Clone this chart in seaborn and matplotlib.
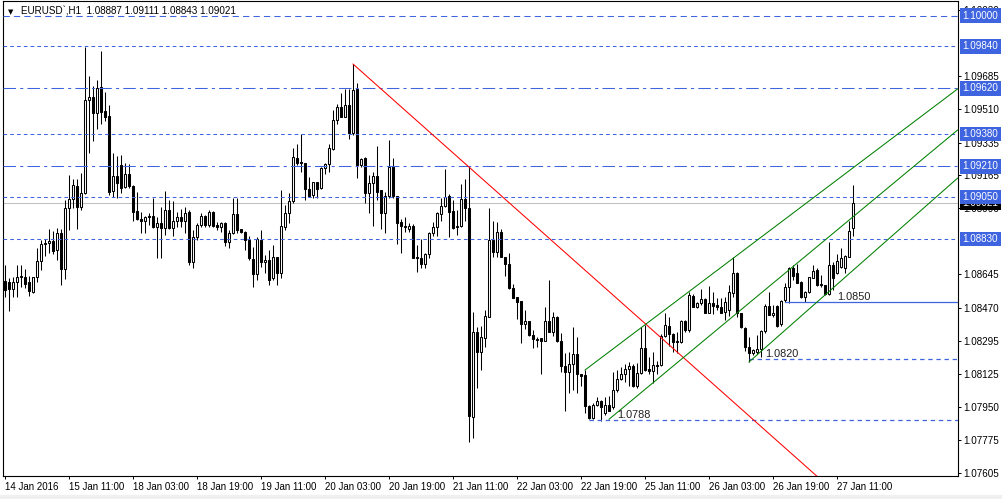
import numpy as np
import pandas as pd
import matplotlib
matplotlib.use("Agg")
import matplotlib.pyplot as plt
import matplotlib.transforms as mtransforms
import seaborn as sns

# EURUSD H1 bars, 14 Jan 2016 19:00 .. 27 Jan 2016 15:00
opens = [
    1.08610, 1.08604, 1.08568, 1.08604, 1.08631, 1.08631, 1.08604, 1.08552, 1.08631, 1.08714,
    1.08803, 1.08809, 1.08819, 1.08772, 1.08861, 1.08672, 1.08992, 1.09039, 1.09107, 1.08997,
    1.09071, 1.09558, 1.09574, 1.09490, 1.09626, 1.09500, 1.09474, 1.09081, 1.09160, 1.09217,
    1.09102, 1.09170, 1.09107, 1.08976, 1.08934, 1.08924, 1.08950, 1.08950, 1.08893, 1.08913,
    1.08887, 1.08982, 1.08887, 1.08924, 1.08945, 1.08924, 1.08971, 1.08709, 1.08840, 1.08903,
    1.08950, 1.08903, 1.08971, 1.08903, 1.08893, 1.08913, 1.08814, 1.08861, 1.08961, 1.08882,
    1.08866, 1.08824, 1.08725, 1.08646, 1.08824, 1.08709, 1.08720, 1.08625, 1.08735, 1.08651,
    1.08893, 1.08966, 1.09029, 1.09254, 1.09233, 1.09228, 1.09092, 1.09060, 1.09128, 1.09097,
    1.09202, 1.09223, 1.09301, 1.09453, 1.09521, 1.09469, 1.09532, 1.09385, 1.09616, 1.09217,
    1.09254, 1.09071, 1.09123, 1.09160, 1.09086, 1.08966, 1.09055, 1.09207, 1.09055, 1.08919,
    1.08898, 1.08882, 1.08898, 1.08735, 1.08730, 1.08699, 1.08751, 1.08861, 1.08893, 1.08961,
    1.09003, 1.09055, 1.08976, 1.08893, 1.08898, 1.09039, 1.08992, 1.07897, 1.08342, 1.08238,
    1.08311, 1.08421, 1.08824, 1.08762, 1.08866, 1.08735, 1.08699, 1.08573, 1.08526, 1.08505,
    1.08384, 1.08400, 1.08327, 1.08306, 1.08311, 1.08295, 1.08400, 1.08342, 1.08421, 1.08295,
    1.08164, 1.08133, 1.08175, 1.08227, 1.08122, 1.08117, 1.07955, 1.07892, 1.07960, 1.07981,
    1.07918, 1.07960, 1.07949, 1.08038, 1.08096, 1.08122, 1.08148, 1.08164, 1.08059, 1.08127,
    1.08258, 1.08148, 1.08138, 1.08169, 1.08169, 1.08321, 1.08374, 1.08332, 1.08295, 1.08290,
    1.08400, 1.08353, 1.08531, 1.08473, 1.08494, 1.08515, 1.08442, 1.08494, 1.08484, 1.08473,
    1.08447, 1.08458, 1.08547, 1.08651, 1.08442, 1.08363, 1.08264, 1.08232, 1.08238, 1.08253,
    1.08348, 1.08479, 1.08431, 1.08479, 1.08384, 1.08510, 1.08578, 1.08678, 1.08651, 1.08604,
    1.08526, 1.08552, 1.08625, 1.08667, 1.08594, 1.08589, 1.08541, 1.08693, 1.08651, 1.08683,
    1.08678, 1.08735, 1.08887,
]
highs = [
    1.08693, 1.08625, 1.08631, 1.08693, 1.08693, 1.08672, 1.08636, 1.08631, 1.08782, 1.08824,
    1.08830, 1.08882, 1.08872, 1.08887, 1.08882, 1.09034, 1.09165, 1.09144, 1.09144, 1.09175,
    1.09836, 1.09684, 1.09631, 1.09663, 1.09815, 1.09600, 1.09532, 1.09280, 1.09265, 1.09270,
    1.09228, 1.09223, 1.09113, 1.09076, 1.08971, 1.08950, 1.08966, 1.09044, 1.08945, 1.08997,
    1.09081, 1.09034, 1.09029, 1.08971, 1.08987, 1.08997, 1.08982, 1.08877, 1.08913, 1.08966,
    1.08955, 1.08982, 1.08976, 1.08919, 1.08919, 1.08919, 1.08877, 1.09044, 1.09044, 1.08882,
    1.08872, 1.08845, 1.08788, 1.08840, 1.08877, 1.08746, 1.08772, 1.08798, 1.08735, 1.09086,
    1.09008, 1.09071, 1.09306, 1.09327, 1.09380, 1.09228, 1.09155, 1.09128, 1.09128, 1.09207,
    1.09228, 1.09327, 1.09506, 1.09537, 1.09595, 1.09616, 1.09616, 1.09747, 1.09647, 1.09254,
    1.09259, 1.09165, 1.09181, 1.09317, 1.09086, 1.09076, 1.09348, 1.09254, 1.09055, 1.08934,
    1.08945, 1.08913, 1.08908, 1.08798, 1.08830, 1.08756, 1.08866, 1.08919, 1.08971, 1.09044,
    1.09196, 1.09065, 1.09034, 1.08982, 1.09118, 1.09144, 1.09207, 1.08447, 1.08369, 1.08374,
    1.08458, 1.08992, 1.08924, 1.08919, 1.08882, 1.08735, 1.08756, 1.08594, 1.08526, 1.08505,
    1.08458, 1.08400, 1.08353, 1.08316, 1.08311, 1.08473, 1.08615, 1.08447, 1.08426, 1.08337,
    1.08232, 1.08238, 1.08369, 1.08316, 1.08122, 1.08143, 1.07960, 1.07970, 1.08002, 1.07986,
    1.08002, 1.08007, 1.08133, 1.08143, 1.08159, 1.08175, 1.08185, 1.08175, 1.08180, 1.08369,
    1.08379, 1.08211, 1.08238, 1.08190, 1.08332, 1.08442, 1.08421, 1.08337, 1.08342, 1.08405,
    1.08405, 1.08552, 1.08541, 1.08500, 1.08568, 1.08520, 1.08583, 1.08552, 1.08520, 1.08520,
    1.08526, 1.08589, 1.08735, 1.08657, 1.08442, 1.08369, 1.08316, 1.08253, 1.08327, 1.08353,
    1.08489, 1.08552, 1.08484, 1.08484, 1.08510, 1.08599, 1.08683, 1.08693, 1.08699, 1.08610,
    1.08557, 1.08631, 1.08693, 1.08678, 1.08641, 1.08589, 1.08814, 1.08709, 1.08751, 1.08782,
    1.08746, 1.08924, 1.09111,
]
lows = [
    1.08526, 1.08452, 1.08526, 1.08526, 1.08578, 1.08573, 1.08531, 1.08547, 1.08604, 1.08667,
    1.08741, 1.08756, 1.08751, 1.08720, 1.08589, 1.08620, 1.08877, 1.08992, 1.08882, 1.08982,
    1.09065, 1.09280, 1.09343, 1.09406, 1.09432, 1.09448, 1.09060, 1.09050, 1.09044, 1.09071,
    1.09097, 1.09097, 1.08924, 1.08929, 1.08861, 1.08861, 1.08903, 1.08887, 1.08730, 1.08730,
    1.08851, 1.08882, 1.08845, 1.08893, 1.08893, 1.08861, 1.08693, 1.08678, 1.08824, 1.08893,
    1.08893, 1.08893, 1.08893, 1.08877, 1.08866, 1.08793, 1.08782, 1.08856, 1.08861, 1.08861,
    1.08772, 1.08720, 1.08578, 1.08615, 1.08683, 1.08651, 1.08589, 1.08615, 1.08589, 1.08625,
    1.08877, 1.08913, 1.09018, 1.09217, 1.09181, 1.09034, 1.09050, 1.09044, 1.09044, 1.09092,
    1.09170, 1.09181, 1.09296, 1.09432, 1.09469, 1.09469, 1.09354, 1.09375, 1.09149, 1.09207,
    1.09018, 1.08966, 1.08898, 1.09034, 1.08882, 1.08861, 1.09044, 1.09044, 1.08803, 1.08756,
    1.08866, 1.08866, 1.08730, 1.08657, 1.08678, 1.08678, 1.08730, 1.08845, 1.08845, 1.08924,
    1.08997, 1.08840, 1.08882, 1.08851, 1.08893, 1.08924, 1.07766, 1.07787, 1.08049, 1.08143,
    1.08264, 1.08421, 1.08735, 1.08735, 1.08735, 1.08636, 1.08568, 1.08520, 1.08410, 1.08285,
    1.08358, 1.08321, 1.08258, 1.08264, 1.08122, 1.08295, 1.08342, 1.08321, 1.08290, 1.08133,
    1.07928, 1.08023, 1.08038, 1.08023, 1.08059, 1.07918, 1.07886, 1.07886, 1.07955, 1.07876,
    1.07907, 1.07928, 1.07939, 1.08028, 1.08091, 1.08080, 1.08059, 1.08054, 1.08049, 1.08122,
    1.08138, 1.08122, 1.08075, 1.08122, 1.08164, 1.08316, 1.08269, 1.08238, 1.08232, 1.08285,
    1.08342, 1.08342, 1.08473, 1.08468, 1.08484, 1.08442, 1.08442, 1.08437, 1.08458, 1.08442,
    1.08405, 1.08426, 1.08526, 1.08421, 1.08363, 1.08243, 1.08185, 1.08222, 1.08227, 1.08211,
    1.08337, 1.08431, 1.08421, 1.08369, 1.08374, 1.08500, 1.08494, 1.08615, 1.08599, 1.08520,
    1.08500, 1.08547, 1.08625, 1.08583, 1.08578, 1.08536, 1.08536, 1.08562, 1.08646, 1.08678,
    1.08651, 1.08735, 1.08843,
]
closes = [
    1.08562, 1.08568, 1.08604, 1.08631, 1.08636, 1.08594, 1.08557, 1.08631, 1.08714, 1.08803,
    1.08809, 1.08819, 1.08767, 1.08861, 1.08672, 1.08992, 1.09039, 1.09113, 1.08997, 1.09071,
    1.09558, 1.09574, 1.09490, 1.09621, 1.09495, 1.09469, 1.09076, 1.09160, 1.09123, 1.09097,
    1.09170, 1.09107, 1.08971, 1.08934, 1.08924, 1.08945, 1.08945, 1.08893, 1.08913, 1.08887,
    1.08982, 1.08887, 1.08924, 1.08945, 1.08924, 1.08966, 1.08709, 1.08840, 1.08903, 1.08950,
    1.08903, 1.08971, 1.08898, 1.08893, 1.08913, 1.08814, 1.08861, 1.08961, 1.08877, 1.08866,
    1.08824, 1.08730, 1.08646, 1.08830, 1.08709, 1.08720, 1.08615, 1.08735, 1.08651, 1.08898,
    1.08966, 1.09029, 1.09259, 1.09228, 1.09228, 1.09092, 1.09055, 1.09128, 1.09092, 1.09202,
    1.09223, 1.09306, 1.09453, 1.09521, 1.09469, 1.09532, 1.09385, 1.09610, 1.09217, 1.09249,
    1.09071, 1.09123, 1.09160, 1.09076, 1.08966, 1.09055, 1.09207, 1.09055, 1.08913, 1.08898,
    1.08893, 1.08898, 1.08730, 1.08730, 1.08699, 1.08751, 1.08861, 1.08893, 1.08966, 1.09003,
    1.09050, 1.08971, 1.08887, 1.08898, 1.09039, 1.08992, 1.07902, 1.08342, 1.08238, 1.08316,
    1.08426, 1.08824, 1.08762, 1.08866, 1.08735, 1.08699, 1.08573, 1.08520, 1.08500, 1.08384,
    1.08400, 1.08327, 1.08306, 1.08300, 1.08295, 1.08400, 1.08342, 1.08421, 1.08295, 1.08164,
    1.08133, 1.08175, 1.08227, 1.08122, 1.08112, 1.07955, 1.07892, 1.07960, 1.07981, 1.07949,
    1.07960, 1.07928, 1.08038, 1.08096, 1.08122, 1.08148, 1.08164, 1.08059, 1.08127, 1.08258,
    1.08143, 1.08138, 1.08169, 1.08164, 1.08321, 1.08379, 1.08332, 1.08290, 1.08290, 1.08400,
    1.08353, 1.08536, 1.08473, 1.08494, 1.08515, 1.08442, 1.08494, 1.08479, 1.08473, 1.08442,
    1.08500, 1.08552, 1.08651, 1.08442, 1.08369, 1.08264, 1.08232, 1.08248, 1.08253, 1.08348,
    1.08479, 1.08431, 1.08442, 1.08374, 1.08505, 1.08578, 1.08678, 1.08636, 1.08599, 1.08526,
    1.08552, 1.08631, 1.08662, 1.08589, 1.08589, 1.08541, 1.08693, 1.08625, 1.08714, 1.08730,
    1.08741, 1.08872, 1.09021,
]

date_ticks = [0, 16, 32, 48, 64, 80, 96, 112, 128, 144, 160, 176, 192, 208]
date_labels = ["14 Jan 2016", "15 Jan 11:00", "18 Jan 03:00", "18 Jan 19:00",
               "19 Jan 11:00", "20 Jan 03:00", "20 Jan 19:00", "21 Jan 11:00",
               "22 Jan 03:00", "22 Jan 19:00", "25 Jan 11:00", "26 Jan 03:00",
               "26 Jan 19:00", "27 Jan 11:00"]
# the scale ticks that are not covered by a level tag
price_ticks = [1.07605, 1.07775, 1.07950, 1.08125, 1.08295, 1.08470, 1.08645,
               1.08990, 1.09165, 1.09335, 1.09510, 1.09685, 1.10030]

# full width horizontal levels
levels = [1.1000, 1.0984, 1.0962, 1.0938, 1.0921, 1.0905, 1.0883]
level_style = ["dash", "dot", "dashdot", "dot", "dashdot", "dot", "dot"]

# short levels starting at a bar
swing_bars = [146, 186, 195]
swing_prices = [1.0788, 1.0820, 1.0850]
swing_style = ["dot", "dot", "solid"]
swing_text_bar = [153, 190, 208]

# trend lines, two anchors each (bar, price), drawn as rays to the right
trend_a = [(87, 1.09747), (145, 1.08143), (151, 1.07885), (186, 1.08185)]
trend_b = [(116, 1.09207), (182, 1.08728), (200, 1.08737), (205, 1.08536)]
trend_col = ["red", "green", "green", "green"]

df = pd.DataFrame({"open": opens, "high": highs, "low": lows, "close": closes})
df["bar"] = np.arange(len(df))

sns.set_theme(style="white")
plt.rcParams["font.family"] = ["Liberation Sans", "DejaVu Sans"]

fig = plt.figure(figsize=(10.02, 4.99), dpi=100)
ax = fig.add_axes([3 / 1002, 1 - 476 / 499, 954.7 / 1002, 475 / 499])

x_right = 238.2
ax.set_xlim(-0.5, x_right)
ax.set_ylim(1.07588, 1.10077)

blue = "#3e64e0"
dash_map = {"dash": (6, 4), "dot": (3.5, 3), "dashdot": (12, 4, 3, 4)}

for lv, st in zip(levels, level_style):
    ax.axhline(lv, color=blue, lw=0.75, dashes=dash_map[st], zorder=4)

# bid line
ax.axhline(closes[-1], color="#c0c0c0", lw=0.75, zorder=1)

# candles
up = df["close"] >= df["open"]
ax.vlines(df["bar"], df["low"], df["high"], color="black", lw=0.75, zorder=2)
body_lo = np.minimum(df["open"], df["close"])
body_h = np.maximum((df["close"] - df["open"]).abs(), 0.000012)
ax.bar(df["bar"][up], body_h[up], bottom=body_lo[up], width=0.55,
       color="white", edgecolor="black", linewidth=0.75, zorder=3)
ax.bar(df["bar"][~up], body_h[~up], bottom=body_lo[~up], width=0.55,
       color="black", edgecolor="black", linewidth=0.75, zorder=3)

# swing levels with their text
for b, p, st, tb in zip(swing_bars, swing_prices, swing_style, swing_text_bar):
    if st == "solid":
        ax.plot([b, x_right], [p, p], color=blue, lw=0.9, zorder=4)
    else:
        ax.plot([b, x_right], [p, p], color=blue, lw=0.9, dashes=dash_map[st], zorder=4)
    ax.text(tb, p, f"{p:.4f}", fontsize=7.8, color="#202020", ha="left", va="bottom", zorder=5)

# trend rays
for (x1, y1), (x2, y2), col in zip(trend_a, trend_b, trend_col):
    slope = (y2 - y1) / (x2 - x1)
    ax.plot([x1, x_right], [y1, y1 + slope * (x_right - x1)], color=col, lw=0.75, zorder=4)

# axes styling
for s in ax.spines.values():
    s.set_color("black")
    s.set_linewidth(0.8)
ax.yaxis.tick_right()
ax.set_yticks(price_ticks)
ax.set_yticklabels([f"{t:.5f}" for t in price_ticks])
ax.tick_params(axis="y", direction="out", length=2.5, width=0.7, pad=1.5,
               labelsize=7.1, colors="black", right=True, left=False)
ax.set_xticks(date_ticks)
ax.set_xticklabels(date_labels, ha="left")
ax.tick_params(axis="x", direction="out", length=2.5, width=0.7, pad=2,
               labelsize=7.0, colors="black", bottom=True)
ax.grid(False)

# price tags on the right axis
tf = mtransforms.blended_transform_factory(ax.transAxes, ax.transData)
ax.annotate(f"{closes[-1]:.5f}", xy=(1.0, closes[-1]), xycoords=tf, xytext=(3.6, 0),
            textcoords="offset points", ha="left", va="center", fontsize=7.1, color="white",
            bbox=dict(boxstyle="square,pad=0.25", fc="black", ec="none"), annotation_clip=False, zorder=6)
for lv in levels:
    ax.annotate(f"{lv:.5f}", xy=(1.0, lv), xycoords=tf, xytext=(3.6, 0),
                textcoords="offset points", ha="left", va="center", fontsize=7.1, color="white",
                bbox=dict(boxstyle="square,pad=0.25", fc=blue, ec="none"), annotation_clip=False, zorder=7)

# header text
title = "EURUSD`,H1  {:.5f} {:.5f} {:.5f} {:.5f}".format(opens[-1], highs[-1], lows[-1], closes[-1])
ax.text(8 / 954.7, 1 - 11 / 475, "\u25bc", transform=ax.transAxes, fontsize=5,
        va="center", ha="center", color="black", family=["DejaVu Sans"])
ax.text(18 / 954.7, 1 - 11 / 475, title, transform=ax.transAxes, fontsize=7.1,
        va="center", ha="left", color="black")

fig.patches.append(plt.Rectangle((0, 0), 1, 4 / 499, transform=fig.transFigure,
                                 color="#f0f0f0", zorder=0))

fig.savefig("out.png", dpi=100)
